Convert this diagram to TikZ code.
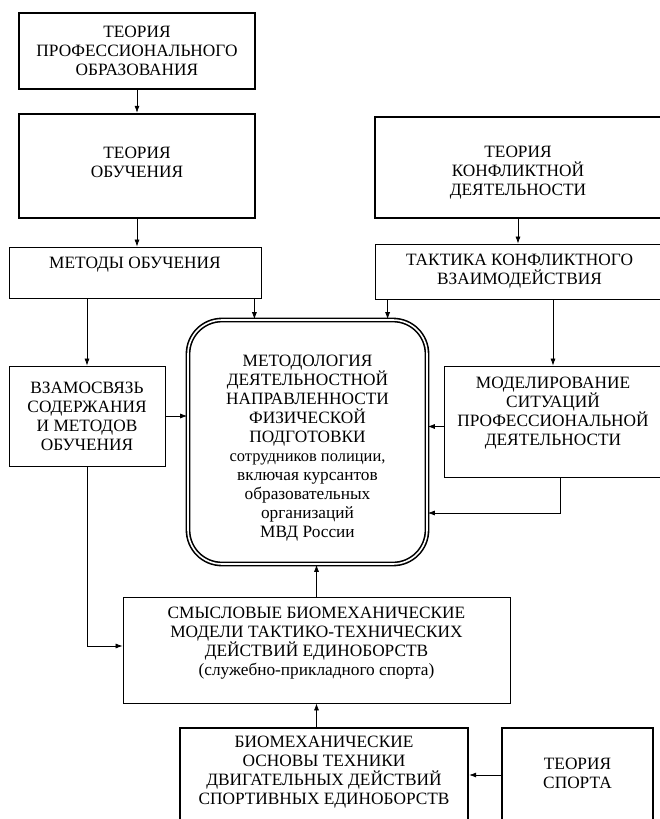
\documentclass[tikz,border=0pt]{standalone}
\usepackage{fontspec}
\setmainfont{Liberation Serif}
\usetikzlibrary{arrows.meta}

\tikzset{
  blk/.style={draw, line width=0.8pt, align=center, inner sep=0pt, font=\fontsize{17.3}{19}\selectfont},
  boldblk/.style={blk, line width=2.4pt},
  txt/.style={align=center, inner sep=0pt, font=\fontsize{17.3}{19}\selectfont},
  arr/.style={-{Latex[length=7pt,width=5pt]}, line width=0.7pt}
}

\begin{document}
\begin{tikzpicture}[x=1pt,y=-1pt]
\useasboundingbox (0,0) rectangle (659,819);
\node[boldblk, minimum width=236, minimum height=76] (tpo) at (137,51) {ТЕОРИЯ\\ПРОФЕССИОНАЛЬНОГО\\ОБРАЗОВАНИЯ};
\node[boldblk, minimum width=236, minimum height=104] (tobuch) at (137,166) {};
\node[txt] (tobuch-t) at (137,162) {ТЕОРИЯ\\ОБУЧЕНИЯ};
\node[boldblk, minimum width=286, minimum height=101] (tkd) at (518,167.5) {};
\node[txt] (tkd-t) at (518,173) {ТЕОРИЯ\\КОНФЛИКТНОЙ\\ДЕЯТЕЛЬНОСТИ};
\node[blk, minimum width=252, minimum height=51] (metody) at (135,272.5) {};
\node[txt] (metody-t) at (135,265) {МЕТОДЫ ОБУЧЕНИЯ};
\node[blk, minimum width=289, minimum height=55] (taktika) at (519.5,271.5) {ТАКТИКА КОНФЛИКТНОГО\\ВЗАИМОДЕЙСТВИЯ};
\node[blk, minimum width=156, minimum height=100] (vzaim) at (87,416) {ВЗАМОСВЯЗЬ\\СОДЕРЖАНИЯ\\И МЕТОДОВ\\ОБУЧЕНИЯ};
\node[blk, line width=1.6pt, double, double distance=1.6pt, rounded corners=34pt,
      minimum width=239, minimum height=244] (metod) at (307.5,442) {};
\node[txt] (metod-t) at (307.5,448)
  {МЕТОДОЛОГИЯ\\ДЕЯТЕЛЬНОСТНОЙ\\НАПРАВЛЕННОСТИ\\ФИЗИЧЕСКОЙ\\ПОДГОТОВКИ\\\fontsize{16.5}{19.5}\selectfont сотрудников полиции,\\включая курсантов\\образовательных\\организаций\\МВД России};
\node[blk, minimum width=218, minimum height=111] (modelir) at (553,421.5) {};
\node[txt] (modelir-t) at (553,413) {МОДЕЛИРОВАНИЕ\\СИТУАЦИЙ\\ПРОФЕССИОНАЛЬНОЙ\\ДЕЯТЕЛЬНОСТИ};
\node[blk, minimum width=387, minimum height=106] (smysl) at (316.5,650) {};
\node[txt] (smysl-t) at (316.5,643) {СМЫСЛОВЫЕ БИОМЕХАНИЧЕСКИЕ\\МОДЕЛИ ТАКТИКО-ТЕХНИЧЕСКИХ\\ДЕЙСТВИЙ ЕДИНОБОРСТВ\\(служебно-прикладного спорта)};
\node[boldblk, minimum width=288, minimum height=94] (biomech) at (324,775) {};
\node[txt] (biomech-t) at (324,772) {БИОМЕХАНИЧЕСКИЕ\\ОСНОВЫ ТЕХНИКИ\\ДВИГАТЕЛЬНЫХ ДЕЙСТВИЙ\\СПОРТИВНЫХ ЕДИНОБОРСТВ};
\node[boldblk, minimum width=151, minimum height=94] (tsport) at (577.5,775) {};
\node[txt] (tsport-t) at (577.5,773) {ТЕОРИЯ\\СПОРТА};

\draw[arr] (tpo) -- (tobuch);
\draw[arr] (tobuch) -- (tobuch |- metody.north);
\draw[arr] (tkd) -- (tkd |- taktika.north);
\draw[arr] (vzaim |- metody.south) -- (vzaim);
\draw[arr] ([xshift=-7pt]metody.south east) -- ([xshift=-7pt]metody.south east |- metod.north);
\draw[arr] ([xshift=13pt]taktika.south west) -- ([xshift=13pt]taktika.south west |- metod.north);
\draw[arr] (modelir |- taktika.south) -- (modelir);
\draw[arr] (vzaim.east) -- (vzaim.east -| metod.west);
\draw[arr] ([yshift=-5pt]modelir.west) -- ([yshift=-5pt]modelir.west -| metod.east);
\draw[arr] ([xshift=7pt]modelir.south) |- ([yshift=-71pt]metod.east);
\draw[arr] (smysl) -- (smysl |- metod.south);
\draw[arr] (vzaim) |- ([yshift=4pt]smysl.west);
\draw[arr] (smysl |- biomech.north) -- (smysl);
\draw[arr] (tsport) -- (tsport -| biomech.east);
\end{tikzpicture}
\end{document}
